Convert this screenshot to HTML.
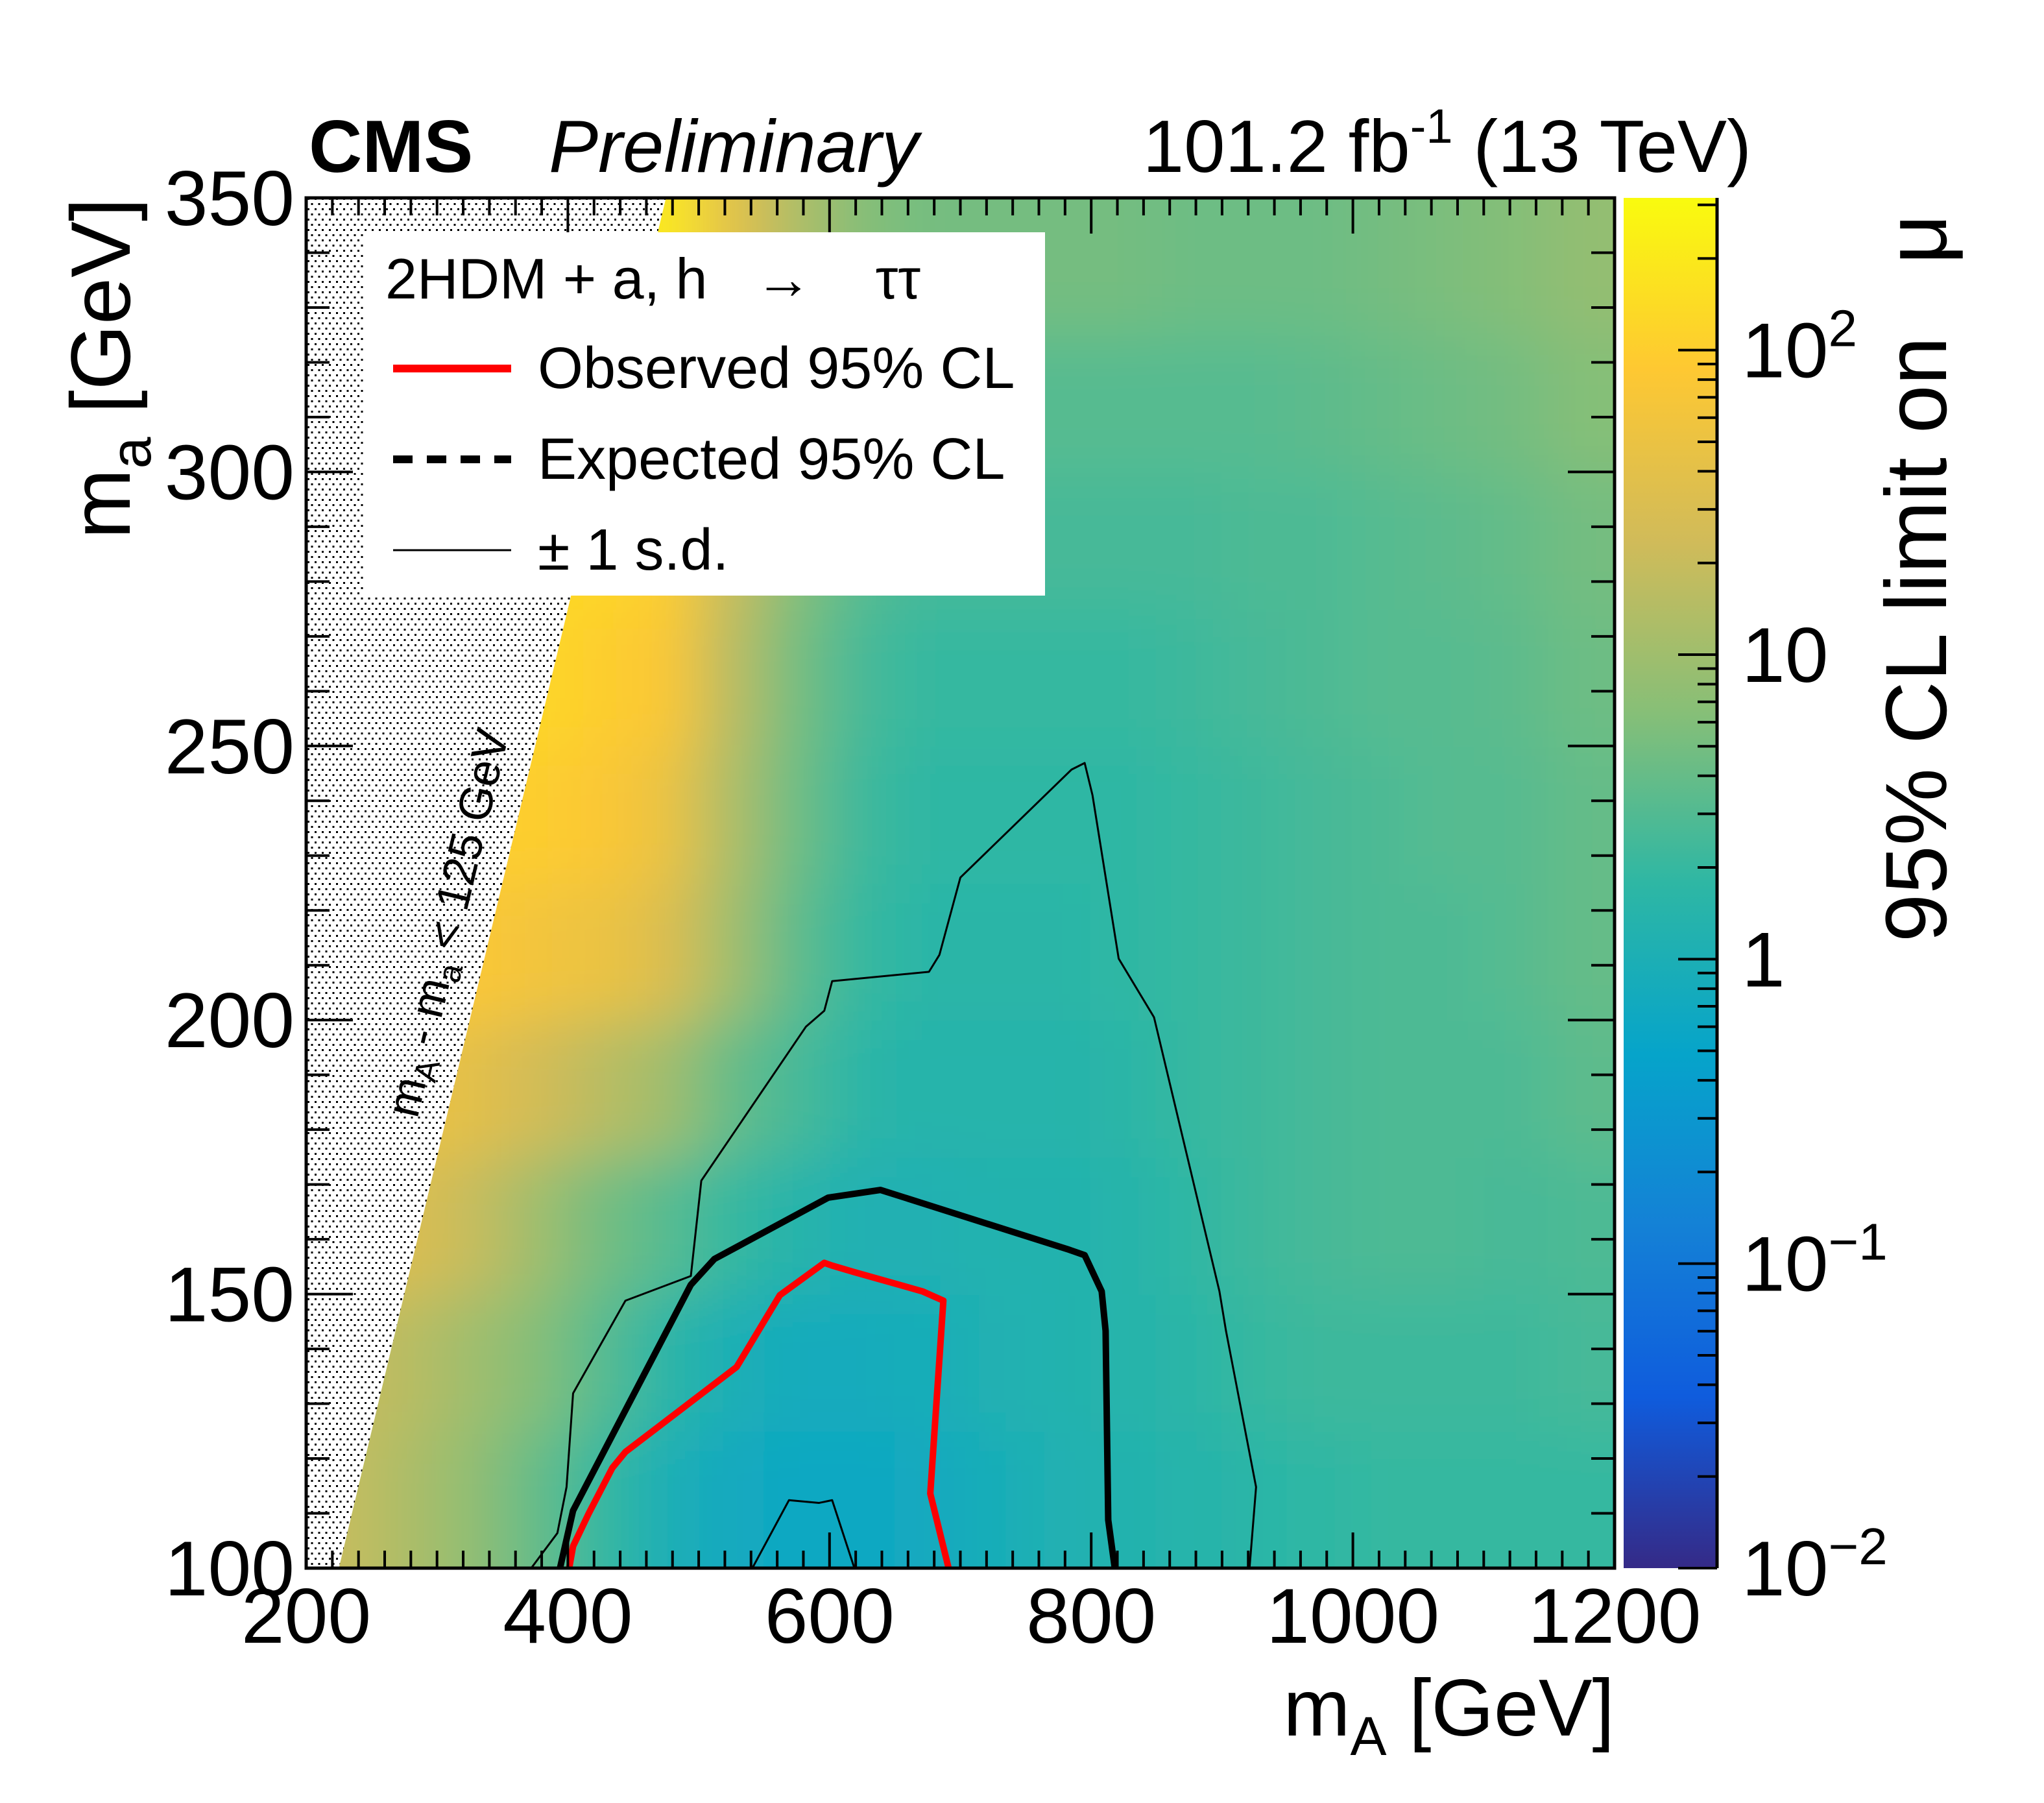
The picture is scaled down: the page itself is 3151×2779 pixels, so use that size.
<!DOCTYPE html>
<html><head><meta charset="utf-8"><style>
html,body{margin:0;padding:0;background:#fff;}
svg{display:block;font-family:"Liberation Sans",sans-serif;}
</style></head><body>
<svg id="chart" width="3151" height="2779" viewBox="0 0 3151 2779" xmlns="http://www.w3.org/2000/svg">
<defs>
<pattern id="dots" width="22" height="16" patternUnits="userSpaceOnUse">
<rect width="22" height="16" fill="#fff"/>
<rect x="1" y="1" width="3" height="3" fill="#000"/>
<rect x="12" y="1" width="3" height="3" fill="#000"/>
<rect x="6.5" y="9" width="3" height="3" fill="#000"/>
<rect x="17.5" y="9" width="3" height="3" fill="#000"/>
</pattern>
<clipPath id="plotclip"><rect x="472" y="305" width="2017" height="2112"/></clipPath>
<filter id="smooth" filterUnits="userSpaceOnUse" x="0" y="0" width="3151" height="2779"><feGaussianBlur stdDeviation="45"/></filter>
<linearGradient id="cbgrad" x1="0" y1="1" x2="0" y2="0">
<stop offset="0" stop-color="rgb(53,42,135)"/>
<stop offset="0.125" stop-color="rgb(15,92,221)"/>
<stop offset="0.25" stop-color="rgb(20,129,214)"/>
<stop offset="0.375" stop-color="rgb(6,164,202)"/>
<stop offset="0.5" stop-color="rgb(46,183,164)"/>
<stop offset="0.625" stop-color="rgb(135,191,119)"/>
<stop offset="0.75" stop-color="rgb(209,187,89)"/>
<stop offset="0.875" stop-color="rgb(254,200,50)"/>
<stop offset="1" stop-color="rgb(249,251,14)"/>
</linearGradient>
</defs>
<g id="heat" clip-path="url(#plotclip)"><g id="heatcells" filter="url(#smooth)"></g></g>
<polygon id="excl" fill="url(#dots)"/>
<g id="contours" clip-path="url(#plotclip)"></g>
<rect x="472" y="305" width="2017" height="2112" fill="none" stroke="#000" stroke-width="5"/>
<g id="ticks"></g>
<text x="714" y="1428" font-size="72" text-anchor="middle" transform="rotate(-76.6 714 1428)">m<tspan font-size="50" dy="14">A</tspan><tspan dy="-14"> - m</tspan><tspan font-size="50" dy="14">a</tspan><tspan dy="-14"> &lt; 125 GeV</tspan></text>
<g>
<rect x="561" y="358" width="1050" height="560" fill="#fff"/>
<text x="594" y="460" font-size="88" xml:space="preserve">2HDM + a, h   →    ττ</text>
<line x1="606" y1="568" x2="788" y2="568" stroke="#f00" stroke-width="12"/>
<text x="829" y="598" font-size="90">Observed 95% CL</text>
<line x1="606" y1="708" x2="788" y2="708" stroke="#000" stroke-width="12" stroke-dasharray="30 22"/>
<text x="829" y="738" font-size="90">Expected 95% CL</text>
<line x1="606" y1="848" x2="788" y2="848" stroke="#000" stroke-width="3"/>
<text x="829" y="878" font-size="90">± 1 s.d.</text>
</g>
<rect x="2503" y="305" width="144" height="2112" fill="url(#cbgrad)"/>
<line x1="2647" y1="305" x2="2647" y2="2417" stroke="#000" stroke-width="5"/>
<g id="cbticks"></g>
<text x="476" y="265" font-size="114" font-weight="bold">CMS</text>
<text x="846" y="265" font-size="114" font-style="italic">Preliminary</text>
<text x="2700" y="265" font-size="114" text-anchor="end">101.2 fb<tspan font-size="74" dy="-45">-1</tspan><tspan dy="45"> (13 TeV)</tspan></text>
<text x="2489" y="2675" font-size="124" text-anchor="end">m<tspan font-size="84" dy="30">A</tspan><tspan dy="-30"> [GeV]</tspan></text>
<text transform="translate(200 305) rotate(-90)" font-size="130" text-anchor="end">m<tspan font-size="88" dy="32">a</tspan><tspan dy="-32"> [GeV]</tspan></text>
<text transform="translate(3000 330) rotate(-90)" font-size="134" text-anchor="end" xml:space="preserve">95% CL limit on   μ</text>
</svg>
<script>
const NS='http://www.w3.org/2000/svg';
const xCenters=[225,275,325,375,425,475,525,575,625,675,725,775,825,875,925,975,1025,1075,1125,1175];
const yCenters=[112.5,137.5,162.5,187.5,212.5,237.5,262.5,287.5,312.5,337.5];
const logLimitRows=[
[1.3,1.1,0.9,0.6,0.3,0.0,-0.15,-0.2,-0.2,-0.15,-0.05,0.05,0.1,0.15,0.2,0.25,0.3,0.3,0.3,0.3],
[1.3,1.2,1.0,0.8,0.5,0.2,0.0,-0.1,-0.1,-0.05,0.05,0.1,0.15,0.2,0.3,0.35,0.35,0.35,0.35,0.4],
[1.5,1.5,1.3,1.0,0.7,0.5,0.3,0.15,0.05,0.05,0.1,0.1,0.15,0.25,0.35,0.4,0.45,0.45,0.4,0.45],
[1.7,1.7,1.6,1.4,1.2,1.0,0.6,0.4,0.2,0.15,0.15,0.15,0.2,0.3,0.35,0.4,0.45,0.45,0.45,0.55],
[1.9,1.9,1.9,1.8,1.7,1.5,1.0,0.55,0.3,0.2,0.2,0.2,0.25,0.3,0.35,0.4,0.45,0.45,0.5,0.6],
[2.0,2.0,2.0,2.0,1.9,1.7,1.1,0.65,0.35,0.25,0.25,0.25,0.25,0.3,0.35,0.4,0.45,0.5,0.5,0.6],
[2.1,2.1,2.1,2.1,2.0,1.9,1.2,0.7,0.4,0.3,0.3,0.3,0.3,0.35,0.4,0.45,0.5,0.5,0.55,0.65],
[2.1,2.1,2.1,2.1,2.1,2.0,1.3,0.8,0.5,0.4,0.4,0.4,0.4,0.4,0.45,0.45,0.5,0.55,0.6,0.7],
[2.2,2.2,2.2,2.2,2.2,2.1,1.4,0.9,0.6,0.5,0.5,0.5,0.5,0.5,0.5,0.55,0.6,0.65,0.7,0.8],
[2.3,2.3,2.3,2.3,2.3,2.3,1.6,1.1,0.8,0.7,0.7,0.7,0.7,0.65,0.65,0.65,0.7,0.75,0.8,0.9]
];
const obsX=[401,404,416,434,444,529,562,596,602,619,671,687,677,691];
const obsY=[100,104,110,118.3,121.2,136.7,149.8,155.7,155.2,154,150.5,148.8,113.6,100];
const expX=[394,404,494,512,599,639,783,795,808,811,813,818];
const expY=[100,110.5,151.7,156.4,167.6,169,158.1,157.1,150.5,143.3,108.8,100];
const sdUpX=[372,392,399,404,444,494,502,582,596,602,676,684,700,785,795,801,821,848,898,903,926,921];
const sdUpY=[100,106.4,114.8,131.9,148.8,153.3,170.7,198.8,201.7,207.1,208.8,211.9,226,245.7,246.9,241,211.2,200.5,150.5,143.3,114.8,100];
const sdDnX=[541,569,592,602,619];
const sdDnY=[100,112.4,111.9,112.4,100];
const xTickLabels=['200','400','600','800','1000','1200'];
const yTickLabels=['100','150','200','250','300','350'];
const cbExponents=[-2,-1,0,1,2];
const cbLabels=['10','10','1','10','10'];
const cbSups=['−2','−1','','','2'];

const X=v=>472+(v-200)*2017/1000;
const Y=v=>2417-(v-100)*2112/250;
const CB=e=>2417-(e+2)*2112/4.5;
const bird=[[53,42,135],[15,92,221],[20,129,214],[6,164,202],[46,183,164],[135,191,119],[209,187,89],[254,200,50],[249,251,14]];
function color(v){let t=Math.max(0,Math.min(1,(v+2)/4.5))*8;let i=Math.min(7,Math.floor(t));let f=t-i;
const c=bird[i].map((a,k)=>Math.round(a+(bird[i+1][k]-a)*f));return `rgb(${c})`;}

const cells=document.getElementById('heatcells');
const PAD=250;
yCenters.forEach((yc,r)=>xCenters.forEach((xc,c)=>{
let x1=X(xc-25)-1,x2=X(xc+25)+1,y1=Y(yc+12.5)-1,y2=Y(yc-12.5)+1;
if(c===0)x1-=PAD; if(c===xCenters.length-1)x2+=PAD;
if(r===0)y2+=PAD; if(r===yCenters.length-1)y1-=PAD;
const el=document.createElementNS(NS,'rect');
el.setAttribute('x',x1);el.setAttribute('y',y1);
el.setAttribute('width',x2-x1);el.setAttribute('height',y2-y1);
el.setAttribute('fill',color(logLimitRows[r][c]));


cells.appendChild(el);}));

document.getElementById('excl').setAttribute('points',`${X(200)},${Y(100)} ${X(225)},${Y(100)} ${X(475)},${Y(350)} ${X(200)},${Y(350)}`);

const cg=document.getElementById('contours');
function poly(xs,ys,col,w,name){const el=document.createElementNS(NS,'polyline');
el.setAttribute('points',xs.map((x,i)=>X(x)+','+Y(ys[i])).join(' '));
el.setAttribute('fill','none');el.setAttribute('stroke',col);el.setAttribute('stroke-width',w);el.setAttribute('stroke-linejoin','round');


cg.appendChild(el);}
poly(sdUpX,sdUpY,'#000',3,'minus-1sd-contour');
poly(sdDnX,sdDnY,'#000',3,'plus-1sd-contour');
poly(expX,expY,'#000',10,'expected-contour');
poly(obsX,obsY,'#f00',10,'observed-contour');

const tg=document.getElementById('ticks');
function ln(x1,y1,x2,y2,w,p){const l=document.createElementNS(NS,'line');l.setAttribute('x1',x1);l.setAttribute('y1',y1);l.setAttribute('x2',x2);l.setAttribute('y2',y2);l.setAttribute('stroke','#000');l.setAttribute('stroke-width',w||4);(p||tg).appendChild(l);return l;}
function txt(x,y,s,anchor,size,p){const t=document.createElementNS(NS,'text');t.setAttribute('x',x);t.setAttribute('y',y);t.setAttribute('font-size',size);t.setAttribute('text-anchor',anchor);t.textContent=s;(p||tg).appendChild(t);return t;}
for(let v=200;v<=1200;v+=20){const major=(v%200===0);const L=major?55:27;const x=X(v);
ln(x,2417,x,2417-L);ln(x,305,x,305+L);}
xTickLabels.forEach(s=>{const t=txt(X(+s),2532,s,'middle',120);

});
for(let v=100;v<=350;v+=10){const major=(v%50===0);const L=major?72:36;const y=Y(v);
ln(472,y,472+L,y);ln(2489,y,2489-L,y);}
yTickLabels.forEach(s=>{const t=txt(454,Y(+s)+42,s,'end',120);

});

const cbg=document.getElementById('cbticks');
for(let e=-2;e<=2;e++){for(let m=1;m<=9;m++){const lv=e+Math.log10(m);if(lv>2.5)break;const y=CB(lv);ln(2647,y,2647-(m===1?60:30),y,4,cbg);}}
cbExponents.forEach((e,i)=>{const t=txt(2685,CB(e)+42,cbLabels[i],'start',120,cbg);


if(cbSups[i]){const s=document.createElementNS(NS,'tspan');s.setAttribute('font-size','80');s.setAttribute('dy','-48');s.textContent=cbSups[i];t.appendChild(s);}});
</script>
</body></html>
